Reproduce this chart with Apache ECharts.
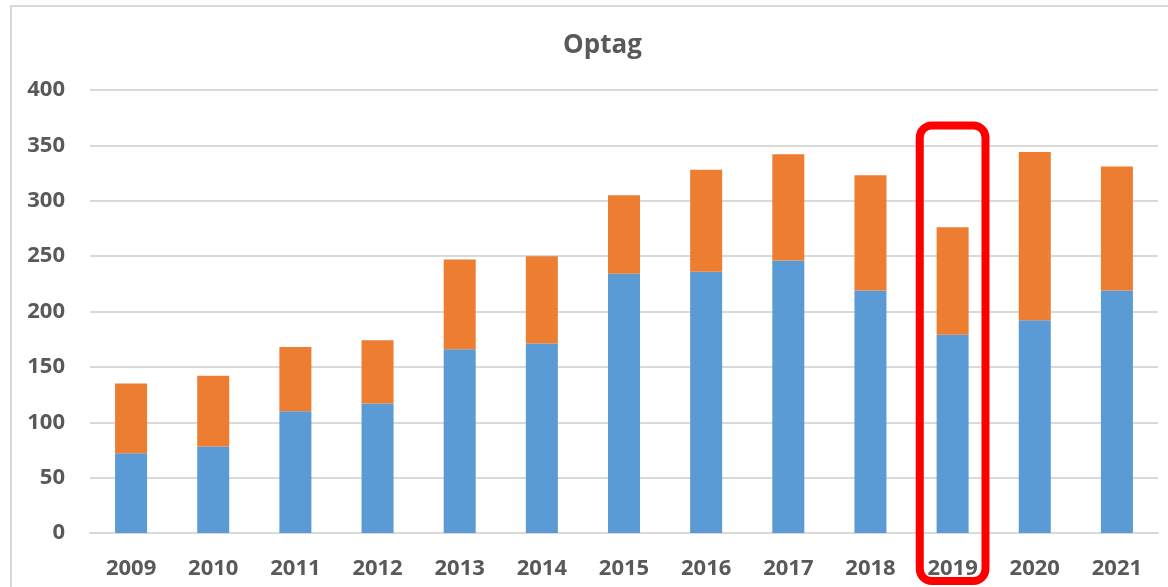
<!DOCTYPE html>
<html>
<head>
<meta charset="utf-8">
<script src="https://cdn.jsdelivr.net/npm/echarts@6/dist/echarts.min.js"></script>
<style>
  html, body { margin: 0; padding: 0; background: #fff; }
  #chart { width: 1168px; height: 587px; }
</style>
</head>
<body>
<div id="chart"></div>
<script>
// data
var years = ['2009', '2010', '2011', '2012', '2013', '2014', '2015', '2016', '2017', '2018', '2019', '2020', '2021'];
var blueValues = [72, 78, 110, 117, 166, 171, 234, 236, 246, 219, 179, 192, 219];
var orangeValues = [63, 64, 58, 57, 81, 79, 71, 92, 96, 104, 97, 152, 112];
var yTicks = [0, 50, 100, 150, 200, 250, 300, 350, 400];
var highlightYear = '2019';

var textColor = '#595959';
var fontFamily = '"Open Sans", "Liberation Sans", sans-serif';

var chart = echarts.init(document.getElementById('chart'), null, {
    renderer: 'canvas'
});

var frame = {
    // light frame around the whole chart
    type: 'rect',
    shape: { x: 11, y: 6, width: 1180, height: 600 },
    style: { fill: null, stroke: '#d9d9d9', lineWidth: 2 },
    silent: true
};

var option = {
    animation: false,
    backgroundColor: '#fff',
    title: {
        text: 'Optag',
        left: 558,
        top: 28,
        textStyle: {
            color: textColor,
            fontFamily: fontFamily,
            fontWeight: 'bold',
            fontSize: 26
        }
    },
    grid: {
        left: 90,
        right: 10,
        top: 90,
        bottom: 54
    },
    xAxis: {
        type: 'category',
        data: years,
        axisLine: { show: true, lineStyle: { color: '#d9d9d9', width: 2 } },
        axisTick: { show: false },
        axisLabel: {
            color: textColor,
            fontFamily: fontFamily,
            fontWeight: 'bold',
            fontSize: 22,
            margin: 25
        }
    },
    yAxis: {
        type: 'value',
        min: yTicks[0],
        max: yTicks[yTicks.length - 1],
        interval: 50,
        axisLine: { show: false },
        axisTick: { show: false },
        splitLine: { lineStyle: { color: '#d9d9d9', width: 2 } },
        axisLabel: {
            color: textColor,
            fontFamily: fontFamily,
            fontWeight: 'bold',
            fontSize: 22,
            margin: 25
        }
    },
    series: [
        {
            name: 'blue',
            type: 'bar',
            stack: 'total',
            barWidth: 32,
            itemStyle: { color: '#5B9BD5' },
            data: blueValues
        },
        {
            name: 'orange',
            type: 'bar',
            stack: 'total',
            barWidth: 32,
            itemStyle: { color: '#ED7D31' },
            data: orangeValues
        }
    ],
    graphic: [frame]
};

chart.setOption(option);

// red highlight box around the 2019 column
var cx = chart.convertToPixel({ xAxisIndex: 0 }, highlightYear);
var catW = chart.convertToPixel({ xAxisIndex: 0 }, years[1]) - chart.convertToPixel({ xAxisIndex: 0 }, years[0]);
var topY = chart.convertToPixel({ yAxisIndex: 0 }, 368);
var boxW = catW * 0.8;
chart.setOption({
    graphic: [
        frame,
        {
            type: 'rect',
            z: 100,
            shape: { x: cx - boxW / 2, y: topY, width: boxW, height: 581 - topY, r: 12 },
            style: { fill: null, stroke: '#FF0000', lineWidth: 8 },
            silent: true
        }
    ]
});

window.addEventListener('resize', chart.resize);
</script>
</body>
</html>
